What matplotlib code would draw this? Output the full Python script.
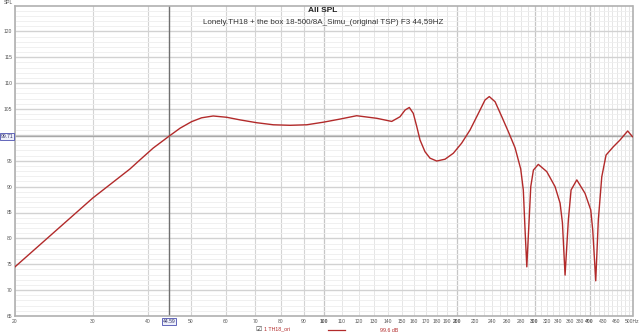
import numpy as np
import matplotlib
matplotlib.use("Agg")
from matplotlib import pyplot as plt

# frequency response (Hz, dB)
freq = [20.0, 30.0, 36.4, 38.4, 41.1, 44.59, 47.3, 50.2, 52.9, 56.2, 60.3, 64.6,
        70.5, 76.9, 83.9, 91.5, 99.8, 108.8, 118.7, 131.9, 142.5, 148.8, 152.8,
        156.2, 159.5, 162.4, 165.2, 169.5, 174.0, 180.2, 188.2, 196.5, 205.2,
        214.4, 223.9, 231.8, 237.0, 244.3, 253.0, 261.8, 271.1, 279.2, 283.0,
        285.6, 288.2, 291.7, 294.2, 298.3, 306.0, 319.8, 333.9, 342.8, 347.0,
        351.8, 357.9, 363.0, 374.0, 390.4, 402.2, 406.4, 412.8, 418.4, 426.0,
        435.6, 452.4, 468.4, 487.6, 500.0]
spl = [74.5, 87.8, 93.4, 95.2, 97.45, 99.71, 101.3, 102.55, 103.3, 103.65, 103.4, 102.9,
       102.35, 101.95, 101.85, 101.95, 102.45, 103.05, 103.7, 103.2, 102.6, 103.5, 104.8,
       105.3, 104.15, 101.6, 99.0, 96.75, 95.5, 94.95, 95.3, 96.45, 98.4,
       100.95, 104.15, 106.75, 107.4, 106.4, 103.5, 100.6, 97.5, 93.4, 89.35,
       81.6, 74.5, 83.55, 90.0, 93.2, 94.3, 92.9, 90.0, 86.8, 83.0,
       72.9, 83.55, 89.35, 91.3, 88.7, 85.5, 81.6, 71.8, 83.55, 91.9,
       96.1, 97.7, 99.0, 100.75, 99.65]

x_ticks = [20, 30, 40, 50, 60, 70, 80, 90, 100, 110, 120, 130, 140, 150, 160, 170,
           180, 190, 200, 220, 240, 260, 280, 300, 320, 340, 360, 380, 400, 430, 460, 500]
x_labels = [str(t) for t in x_ticks[:-1]] + ['500Hz']
y_ticks = [65, 70, 75, 80, 85, 90, 95, 105, 110, 115, 120]
y_major_grid = [70, 75, 80, 85, 90, 95, 100, 105, 110, 115, 120]

marker_f = 44.59
marker_db = 99.71
title = 'All SPL'
subtitle = 'Lonely.TH18 + the box 18-500/8A_Simu_(original TSP) F3 44,59HZ'
trace_name = '1 TH18_ori'
trace_level = '99.6 dB'

red = '#b22a2a'
plt.rcParams['font.family'] = ['Liberation Sans', 'DejaVu Sans']

fig = plt.figure(figsize=(6.4, 3.35), dpi=100)
ax = fig.add_axes([15/640, 1-316/335, 617.5/640, 310.5/335])
ax.set_xscale('log')
ax.set_xlim(20, 500)
ax.set_ylim(65, 125)

# grid
minor_x = list(range(20, 100, 10)) + list(range(100, 200, 10)) + list(range(200, 500, 10))
for f in minor_x:
    ax.axvline(f, color='#e6e6e6', lw=0.7, zorder=0)
for f in [30, 40, 50, 60, 70, 80, 90]:
    ax.axvline(f, color='#d4d4d4', lw=0.8, zorder=0)
for f in [100, 200, 300, 400]:
    ax.axvline(f, color='#c6c6c6', lw=0.9, zorder=0)
for d in range(66, 125):
    ax.axhline(d, color='#eeeeee', lw=0.6, zorder=0)
for d in y_major_grid:
    ax.axhline(d, color='#d2d2d2', lw=1.0, zorder=0)

ax.set_xticks(x_ticks)
ax.set_xticklabels(x_labels)
ax.set_xticks([], minor=True)
ax.set_yticks(y_ticks)
ax.set_yticklabels([str(t) for t in y_ticks])
ax.set_yticks([], minor=True)
ax.tick_params(length=0, labelsize=3.6, colors='#555555', pad=2)
for lab in ax.get_xticklabels():
    if lab.get_text() in ('100', '200', '300', '400'):
        lab.set_fontweight('bold')
for s in ax.spines.values():
    s.set_color('#b0b0b0')
    s.set_linewidth(1.2)

# marker cross
ax.axvline(marker_f, color='#707070', lw=1.0, zorder=1)
ax.axhline(marker_db, color='#a8a8a8', lw=1.0, zorder=1)

ax.plot(freq, spl, color=red, lw=1.0, zorder=3, solid_joinstyle='round')

box = dict(boxstyle='square,pad=0.15', fc='#eef0fb', ec='#4a4fb0', lw=0.6)
ax.annotate(f'{marker_db:.2f}', xy=(0, marker_db), xycoords=('axes fraction', 'data'),
            xytext=(-1, 0), textcoords='offset points', ha='right', va='center',
            fontsize=3.6, color='#333366', bbox=box, annotation_clip=False)
ax.annotate(f'{marker_f:.2f}', xy=(marker_f, 0), xycoords=('data', 'axes fraction'),
            xytext=(0, -4), textcoords='offset points', ha='center', va='center',
            fontsize=3.6, color='#333366', bbox=box, annotation_clip=False)

fig.text(8/640, 1-3/335, 'SPL', fontsize=3.6, color='#555555', ha='center', va='center')
fig.text(323/640, 1-10/335, title, fontsize=6, fontweight='bold', ha='center', va='center', color='#222222')
fig.text(323/640, 1-22/335, subtitle, fontsize=5.8, ha='center', va='center', color='#333333')

# legend row
fig.text(259/640, 1-329/335, '\u2611', fontsize=5, ha='center', va='center', color='#444444',
         family=['DejaVu Sans'])
fig.text(264/640, 1-329/335, trace_name, fontsize=3.8, ha='left', va='center', color=red)
fig.add_artist(plt.Line2D([328/640, 345/640], [1-330/335, 1-330/335], color=red, lw=0.9))
fig.text(380/640, 1-330/335, trace_level, fontsize=3.8, ha='left', va='center', color=red)

fig.savefig('out.png', dpi=100)
